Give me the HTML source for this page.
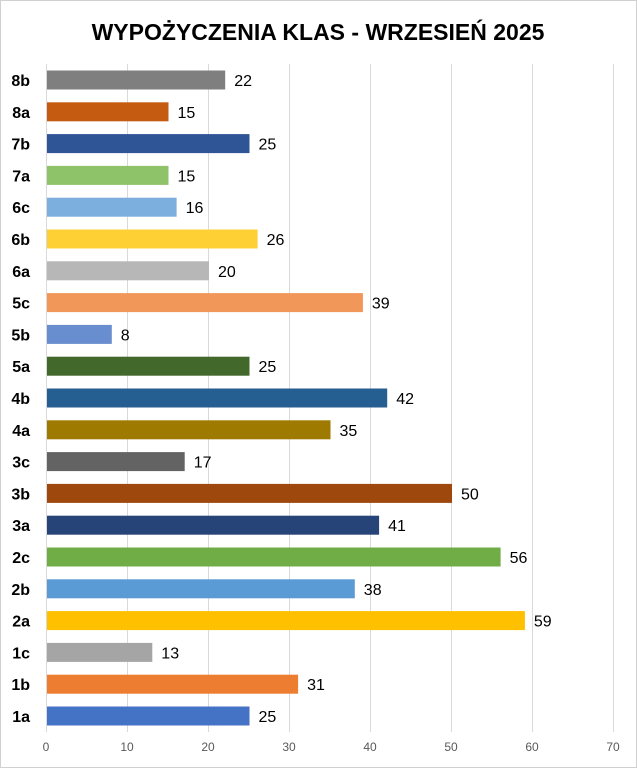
<!DOCTYPE html>
<html><head><meta charset="utf-8"><style>
body{margin:0;background:#fff}
svg{display:block}
text{font-family:"Liberation Sans",sans-serif}
</style></head><body>
<svg width="637" height="768" xmlns="http://www.w3.org/2000/svg">
<rect x="0.5" y="0.5" width="636" height="767" fill="#fff" stroke="#d0d0d0"/>
<text x="318" y="40" text-anchor="middle" font-size="23" font-weight="bold" fill="#000">WYPOŻYCZENIA KLAS - WRZESIEŃ 2025</text>
<g stroke="#d9d9d9" stroke-width="1">
<line x1="46.5" y1="64" x2="46.5" y2="732"/><line x1="127.5" y1="64" x2="127.5" y2="732"/><line x1="208.5" y1="64" x2="208.5" y2="732"/><line x1="289.5" y1="64" x2="289.5" y2="732"/><line x1="370.5" y1="64" x2="370.5" y2="732"/><line x1="451.5" y1="64" x2="451.5" y2="732"/><line x1="532.5" y1="64" x2="532.5" y2="732"/><line x1="613.5" y1="64" x2="613.5" y2="732"/>
</g>
<g font-size="12" fill="#595959" text-anchor="middle">
<text x="46" y="751">0</text><text x="127" y="751">10</text><text x="208" y="751">20</text><text x="289" y="751">30</text><text x="370" y="751">40</text><text x="451" y="751">50</text><text x="532" y="751">60</text><text x="613" y="751">70</text>
</g>
<g>
<rect x="47" y="70.5" width="178.2" height="19" fill="#7f7f7f"/>
<rect x="47" y="102.3" width="121.5" height="19" fill="#c55a11"/>
<rect x="47" y="134.1" width="202.5" height="19" fill="#2f5597"/>
<rect x="47" y="165.9" width="121.5" height="19" fill="#8fc36a"/>
<rect x="47" y="197.7" width="129.6" height="19" fill="#7cafdd"/>
<rect x="47" y="229.5" width="210.6" height="19" fill="#ffd033"/>
<rect x="47" y="261.3" width="162" height="19" fill="#b7b7b7"/>
<rect x="47" y="293.1" width="315.9" height="19" fill="#f1975a"/>
<rect x="47" y="324.9" width="64.8" height="19" fill="#698ed0"/>
<rect x="47" y="356.7" width="202.5" height="19" fill="#43682b"/>
<rect x="47" y="388.5" width="340.2" height="19" fill="#255e91"/>
<rect x="47" y="420.3" width="283.5" height="19" fill="#9e7a00"/>
<rect x="47" y="452.1" width="137.7" height="19" fill="#636363"/>
<rect x="47" y="483.9" width="405" height="19" fill="#9e480e"/>
<rect x="47" y="515.7" width="332.1" height="19" fill="#264478"/>
<rect x="47" y="547.5" width="453.6" height="19" fill="#70ad47"/>
<rect x="47" y="579.3" width="307.8" height="19" fill="#5b9bd5"/>
<rect x="47" y="611.1" width="477.9" height="19" fill="#ffc000"/>
<rect x="47" y="642.9" width="105.3" height="19" fill="#a5a5a5"/>
<rect x="47" y="674.7" width="251.1" height="19" fill="#ed7d31"/>
<rect x="47" y="706.5" width="202.5" height="19" fill="#4472c4"/>
</g>
<g font-size="16" font-weight="bold" fill="#000" text-anchor="end">
<text x="30" y="86">8b</text><text x="30" y="117.8">8a</text><text x="30" y="149.6">7b</text><text x="30" y="181.4">7a</text><text x="30" y="213.2">6c</text><text x="30" y="245">6b</text><text x="30" y="276.8">6a</text><text x="30" y="308.6">5c</text><text x="30" y="340.4">5b</text><text x="30" y="372.2">5a</text><text x="30" y="404">4b</text><text x="30" y="435.8">4a</text><text x="30" y="467.6">3c</text><text x="30" y="499.4">3b</text><text x="30" y="531.2">3a</text><text x="30" y="563">2c</text><text x="30" y="594.8">2b</text><text x="30" y="626.6">2a</text><text x="30" y="658.4">1c</text><text x="30" y="690.2">1b</text><text x="30" y="722">1a</text>
</g>
<g font-size="16" fill="#000">
<text x="234.2" y="86">22</text><text x="177.5" y="117.8">15</text><text x="258.5" y="149.6">25</text><text x="177.5" y="181.4">15</text><text x="185.6" y="213.2">16</text><text x="266.6" y="245">26</text><text x="218" y="276.8">20</text><text x="371.9" y="308.6">39</text><text x="120.8" y="340.4">8</text><text x="258.5" y="372.2">25</text><text x="396.2" y="404">42</text><text x="339.5" y="435.8">35</text><text x="193.7" y="467.6">17</text><text x="461" y="499.4">50</text><text x="388.1" y="531.2">41</text><text x="509.6" y="563">56</text><text x="363.8" y="594.8">38</text><text x="533.9" y="626.6">59</text><text x="161.3" y="658.4">13</text><text x="307.1" y="690.2">31</text><text x="258.5" y="722">25</text>
</g>
</svg>
</body></html>
